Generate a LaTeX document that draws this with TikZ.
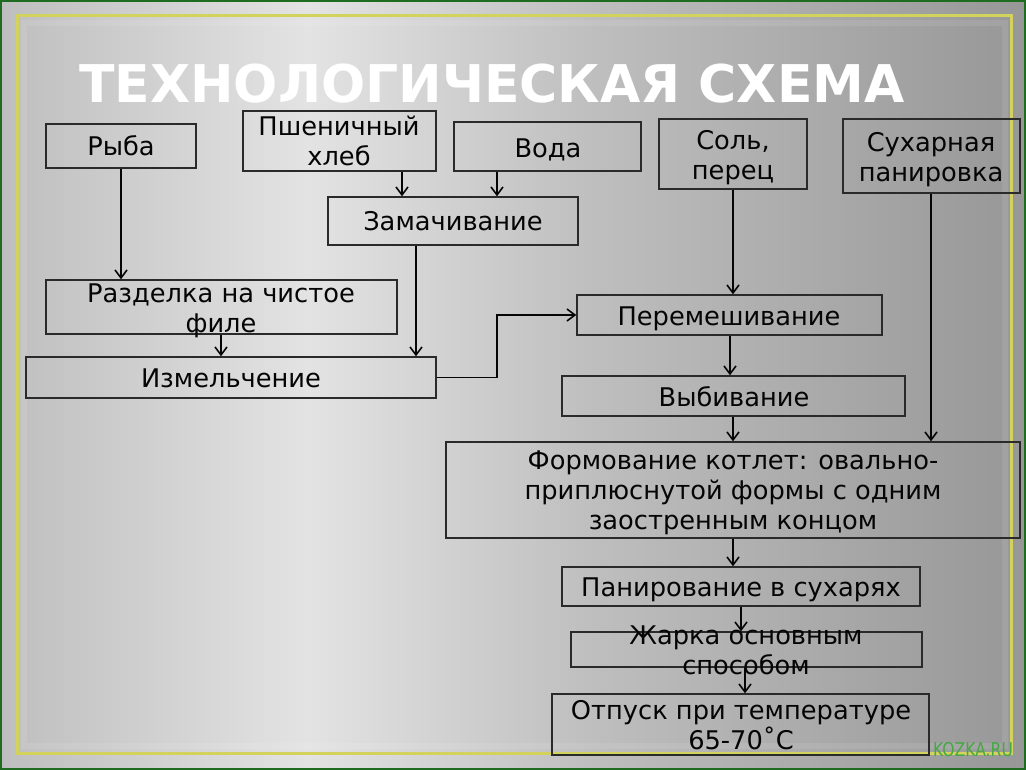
\documentclass[tikz,border=0pt]{standalone}
\usepackage{fontspec}
\setmainfont{DejaVu Sans}
\usetikzlibrary{arrows.meta,fit}
\definecolor{bgA}{HTML}{BEBEBE}
\definecolor{bgB}{HTML}{E3E3E3}
\definecolor{bgC}{HTML}{BEBEBE}
\definecolor{bgD}{HTML}{979797}
\pgfdeclarehorizontalshading{bgshade}{100bp}{color(0bp)=(bgA); color(25bp)=(bgA); color(40bp)=(bgB); color(54bp)=(bgC); color(75bp)=(bgD); color(100bp)=(bgD)}
\definecolor{frameyel}{HTML}{D2D25C}
\definecolor{edgegreen}{HTML}{1F6B1F}
\definecolor{ink}{HTML}{050505}
\definecolor{boxline}{HTML}{2A2A2A}
\definecolor{wmgreen}{HTML}{45A845}
\tikzset{
  boxnode/.style={draw=boxline, line width=1.4pt, rectangle, inner sep=0pt},
  txt/.style={text=ink, font=\fontsize{25.7}{30}\selectfont, inner sep=0pt, anchor=base},
  arr/.style={draw=ink, line width=1.6pt, -{Straight Barb[length=8pt,width=12pt]}},
}
\begin{document}
\begin{tikzpicture}[x=1pt,y=-1pt]
\useasboundingbox (0,0) rectangle (1026,770);
\shade[shading=bgshade] (0,0) rectangle (1026,770);
\draw[white, opacity=0.09, line width=6pt] (24,23) rectangle (1005,746);
\draw[edgegreen, line width=2.5pt] (1,1) rectangle (1025,769);
\draw[frameyel, line width=3pt] (17,16) rectangle (1011,753);

\node[font=\fontsize{52}{60}\selectfont\bfseries, text=white, anchor=base, inner sep=0pt] (title) at (492,103) {ТЕХНОЛОГИЧЕСКАЯ СХЕМА};

% boxes
\node[boxnode, fit={(46,124) (196,168)}] (ryba) {};
\node[boxnode, fit={(243,111) (436,171)}] (xleb) {};
\node[boxnode, fit={(454,122) (641,171)}] (voda) {};
\node[boxnode, fit={(659,119) (807,189)}] (sol) {};
\node[boxnode, fit={(843,119) (1020,193)}] (sux) {};
\node[boxnode, fit={(328,197) (578,245)}] (zam) {};
\node[boxnode, fit={(46,280) (397,334)}] (razd) {};
\node[boxnode, fit={(577,295) (882,335)}] (perem) {};
\node[boxnode, fit={(26,357) (436,398)}] (izm) {};
\node[boxnode, fit={(562,376) (905,416)}] (vyb) {};
\node[boxnode, fit={(446,442) (1020,538)}] (form) {};
\node[boxnode, fit={(562,567) (920,606)}] (pan) {};
\node[boxnode, fit={(571,632) (922,667)}] (zhar) {};
\node[boxnode, fit={(552,694) (929,755)}] (otp) {};

% texts
\node[txt] (ryba-t) at (121,156) {Рыба};
\node[txt] (xleb-t1) at (339,136) {Пшеничный};
\node[txt] (xleb-t2) at (339,166) {хлеб};
\node[txt] (voda-t) at (548,158) {Вода};
\node[txt] (sol-t1) at (733,150) {Соль,};
\node[txt] (sol-t2) at (733,180) {перец};
\node[txt] (sux-t1) at (931,152) {Сухарная};
\node[txt] (sux-t2) at (931,182) {панировка};
\node[txt] (zam-t) at (453,231) {Замачивание};
\node[txt] (razd-t1) at (221,302) {Разделка на чистое};
\node[txt] (razd-t2) at (221,332) {филе};
\node[txt] (perem-t) at (729,325) {Перемешивание};
\node[txt] (izm-t) at (231,387) {Измельчение};
\node[txt] (vyb-t) at (734,406) {Выбивание};
\node[txt] (form-t1) at (733,469) {Формование котлет: овально-};
\node[txt] (form-t2) at (733,499) {приплюснутой формы с одним};
\node[txt] (form-t3) at (733,529) {заостренным концом};
\node[txt] (pan-t) at (741,596) {Панирование в сухарях};
\node[txt] (zhar-t1) at (746,644) {Жарка основным};
\node[txt] (zhar-t2) at (746,674) {способом};
\node[txt] (otp-t1) at (741,719) {Отпуск при температуре};
\node[txt] (otp-t2) at (741,749) {65-70˚C};

\node[font=\fontsize{19}{19}\selectfont, text=wmgreen, anchor=base, inner sep=0pt, xscale=0.82, transform shape] (wm) at (973,756) {KOZKA.RU};

% connectors
\draw[arr] (ryba.south -| 121,0) -- (razd.north -| 121,0);
\draw[arr] (xleb.south -| 402,0) -- (zam.north -| 402,0);
\draw[arr] (voda.south -| 497,0) -- (zam.north -| 497,0);
\draw[arr] (razd.south -| 221,0) -- (izm.north -| 221,0);
\draw[arr] (zam.south -| 416,0) -- (izm.north -| 416,0);
\draw[arr] (izm.east) -- (izm.east -| 497,0) |- (perem.west);
\draw[arr] (sol.south -| 733,0) -- (perem.north -| 733,0);
\draw[arr] (perem.south -| 730,0) -- (vyb.north -| 730,0);
\draw[arr] (vyb.south -| 733,0) -- (form.north -| 733,0);
\draw[arr] (sux.south -| 931,0) -- (form.north -| 931,0);
\draw[arr] (form.south -| 733,0) -- (pan.north -| 733,0);
\draw[arr] (pan.south -| 741,0) -- (zhar.north -| 741,0);
\draw[arr] (zhar.south -| 745,0) -- (otp.north -| 745,0);
\end{tikzpicture}
\end{document}
